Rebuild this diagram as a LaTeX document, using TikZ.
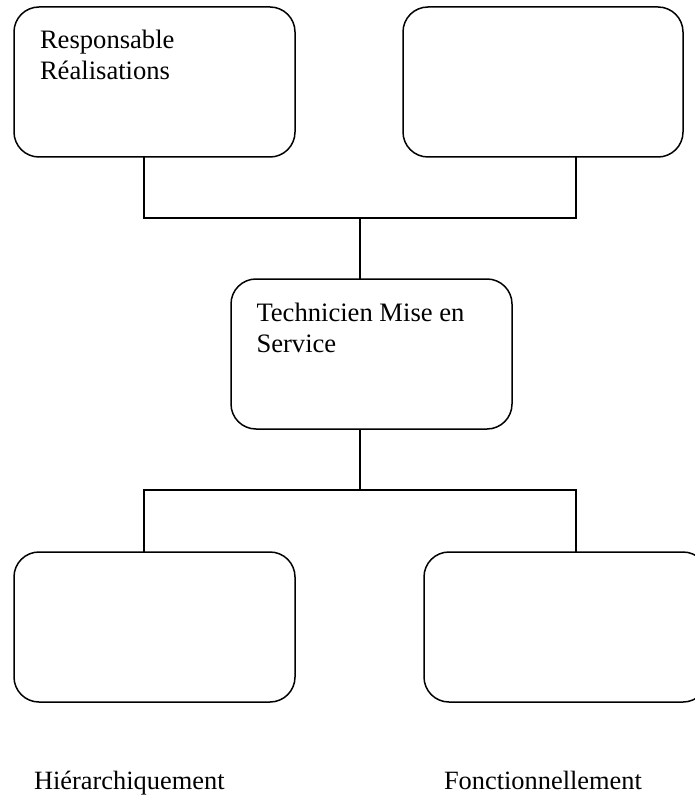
\documentclass[tikz,border=0pt]{standalone}
\usepackage{fontspec}
\setmainfont{Liberation Serif}
\begin{document}
\begin{tikzpicture}[x=1pt,y=-1pt,
  box/.style={draw, line width=1.5pt, rounded corners=25pt, inner sep=0pt, outer sep=0pt, anchor=north west, minimum height=150pt},
  conn/.style={line width=1.5pt},
  txt/.style={inner sep=0pt, outer sep=0pt, anchor=base west, font=\fontsize{26.6}{31}\selectfont},
  lbl/.style={inner sep=0pt, outer sep=0pt, anchor=base west, font=\fontsize{26.4}{31}\selectfont}]
\useasboundingbox (0,0) rectangle (695,802);
\clip (0,0) rectangle (695,802);
\node[box, minimum width=281pt] (tl) at (14,7) {};
\node[box, minimum width=280pt] (tr) at (403,7) {};
\node[box, minimum width=281pt] (m) at (231,279) {};
\node[box, minimum width=281pt] (bl) at (14,552) {};
\node[box, minimum width=284pt] (br) at (424,552) {};
\coordinate (al) at (144,0);
\coordinate (ar) at (576,0);
\coordinate (jt) at (360,218);
\coordinate (jb) at (360,490);
\draw[conn] (tl.south -| al) |- (jt) -| (tr.south -| ar);
\draw[conn] (jt) -- (m.north -| jt);
\draw[conn] (m.south -| jb) -- (jb);
\draw[conn] (bl.north -| al) |- (jb) -| (br.north -| ar);
\node[txt] (t1) at (40,49) {Responsable};
\node[txt] (t2) at (40,80) {Réalisations};
\node[txt] (t3) at (256.5,321) {Technicien Mise en};
\node[txt] (t4) at (256.5,352) {Service};
\node[lbl] (l1) at (34,789) {Hiérarchiquement};
\node[lbl] (l2) at (444,789) {Fonctionnellement};
\end{tikzpicture}
\end{document}
